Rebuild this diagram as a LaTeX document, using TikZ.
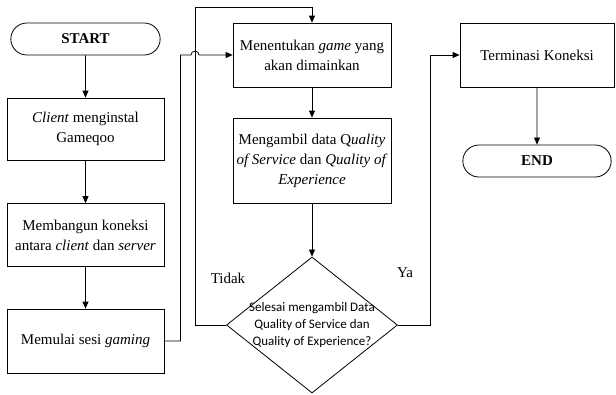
\documentclass[tikz,border=0pt]{standalone}
\usepackage{fontspec}
\setmainfont{Liberation Serif}
\newfontfamily\serifku{Liberation Serif}
\newfontfamily\calibri{Carlito}
\usepackage{tikz}
\usetikzlibrary{shapes.misc,shapes.geometric,arrows.meta,positioning,calc}

\begin{document}
\begin{tikzpicture}[x=1pt,y=1pt,
  font=\serifku\fontsize{15}{20}\selectfont,
  kotak/.style={draw,rectangle,line width=0.8pt,align=center,inner sep=2pt},
  ujung/.style={draw,rounded rectangle,line width=0.8pt,font=\serifku\fontsize{15}{20}\selectfont\bfseries,minimum width=156pt,minimum height=32pt},
  alur/.style={-{Triangle[length=7pt,width=6pt]},line width=0.8pt},
]
  \useasboundingbox (0,0) rectangle (616,-394);

  % kolom kiri
  \node[ujung] (start) at (85.5,-39) {START};
  \node[kotak,minimum width=157pt,minimum height=62pt] (client) at (85.5,-129) {\textit{Client} menginstal\\Gameqoo};
  \node[kotak,minimum width=157pt,minimum height=63pt] (bangun) at (85.5,-235) {Membangun koneksi\\antara \textit{client} dan \textit{server}};
  \node[kotak,minimum width=157pt,minimum height=64pt] (mulai) at (85.5,-341) {Memulai sesi \textit{gaming}};

  % kolom tengah
  \node[kotak,minimum width=158pt,minimum height=64pt] (tentukan) at (312,-55) {Menentukan \textit{game} yang\\akan dimainkan};
  \node[kotak,minimum width=158pt,minimum height=85pt] (ambil) at (312,-160.5) {Mengambil data Q\textit{uality}\\\textit{of Service} dan \textit{Quality of}\\\textit{Experience}};
  \node[draw,diamond,line width=0.8pt,minimum width=171pt,minimum height=136pt,inner sep=0pt] (cek) at (312,-325) {};
  \node[font=\calibri\fontsize{13}{17}\selectfont,align=center] (cekteks) at (cek) {Selesai mengambil Data\\Quality of Service dan\\Quality of Experience?};

  % kolom kanan
  \node[kotak,minimum width=154pt,minimum height=64pt] (termin) at (537,-55) {Terminasi Koneksi};
  \node[ujung,minimum width=155pt] (end) at (537,-161) {END};

  \node (tidak) at (228,-278) {Tidak};
  \node (ya) at (405,-273) {Ya};

  \coordinate (lompat) at (195,-55);
  \coordinate (atas) at (195,-7);

  \draw[alur] (start) -- (client);
  \draw[alur] (client) -- (bangun);
  \draw[alur] (bangun) -- (mulai);
  \draw[alur] (mulai.east) -- ++(16,0) |- ([xshift=-4pt]lompat) arc[start angle=180,end angle=0,radius=4pt] -- (tentukan.west);
  \draw[alur] (tentukan) -- (ambil);
  \draw[alur] (ambil) -- (cek);
  \draw[alur] (cek.west) -| (atas) -| (tentukan.north);
  \draw[alur] (cek.east) -- ++(32,0) |- (termin.west);
  \draw[alur] (termin) -- (end);
\end{tikzpicture}
\end{document}
